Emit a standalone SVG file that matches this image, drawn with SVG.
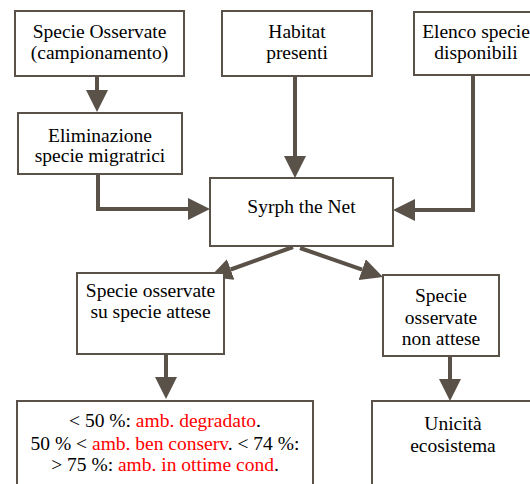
<svg xmlns="http://www.w3.org/2000/svg" width="530" height="484" viewBox="0 0 530 484">
<style>
.box{fill:#fff;stroke:#5a5148;stroke-width:2}
.t{font-family:"Liberation Serif","Times New Roman",serif;font-size:19.5px;fill:#000;text-anchor:middle}
.r{fill:#ff0000}
.c{fill:none;stroke:#5a5148;stroke-width:4}
</style>
<defs>
<marker id="ah" markerUnits="userSpaceOnUse" markerWidth="22" markerHeight="22" refX="0" refY="11" orient="auto" viewBox="0 0 22 22">
<path d="M0,0 L22,11 L0,22 z" fill="#5a5148"/>
</marker>
</defs>
<rect width="530" height="484" fill="#fff"/>
<g id="connectors">
<path class="c" d="M97,76 V90" marker-end="url(#ah)"/>
<path class="c" d="M295,76 V156" marker-end="url(#ah)"/>
<path class="c" d="M98,174 V209 H188" marker-end="url(#ah)"/>
<path class="c" d="M473,75 V210 H415" marker-end="url(#ah)"/>
<path class="c" d="M293,247 L230.7,269.5" marker-end="url(#ah)"/>
<path class="c" d="M300,248 L362.2,269.7" marker-end="url(#ah)"/>
<path class="c" d="M166,354 V377" marker-end="url(#ah)"/>
<path class="c" d="M450,356 V379" marker-end="url(#ah)"/>
</g>
<g id="n1">
<rect class="box" x="15" y="11" width="169" height="65"/>
<text class="t" x="99.5" y="38">Specie Osservate</text>
<text class="t" x="99.5" y="59">(campionamento)</text>
</g>
<g id="n2">
<rect class="box" x="222" y="11" width="150" height="65"/>
<text class="t" x="297" y="38">Habitat</text>
<text class="t" x="297" y="59">presenti</text>
</g>
<g id="n3">
<rect class="box" x="414" y="12" width="124" height="63"/>
<text class="t" x="476" y="38">Elenco specie</text>
<text class="t" x="476" y="59">disponibili</text>
</g>
<g id="n4">
<rect class="box" x="18" y="113" width="164" height="61"/>
<text class="t" x="100" y="142">Eliminazione</text>
<text class="t" x="100" y="162">specie migratrici</text>
</g>
<g id="n5">
<rect class="box" x="210" y="178" width="183" height="68"/>
<text class="t" x="301.5" y="213">Syrph the Net</text>
</g>
<g id="n6">
<rect class="box" x="77" y="273" width="147" height="81"/>
<text class="t" x="150.5" y="297">Specie osservate</text>
<text class="t" x="150.5" y="318">su specie attese</text>
</g>
<g id="n7">
<rect class="box" x="383" y="275" width="116" height="81"/>
<text class="t" x="441" y="302">Specie</text>
<text class="t" x="441" y="324">osservate</text>
<text class="t" x="441" y="345">non attese</text>
</g>
<g id="n8">
<rect class="box" x="17" y="401" width="296" height="100"/>
<text class="t" x="165" y="427">&lt; 50 %: <tspan class="r">amb. degradato</tspan>.</text>
<text class="t" x="165" y="450">50 % &lt; <tspan class="r">amb. ben conserv</tspan>. &lt; 74 %:</text>
<text class="t" x="165" y="471">&gt; 75 %: <tspan class="r">amb. in ottime cond</tspan>.</text>
</g>
<g id="n9">
<rect class="box" x="372" y="401" width="162" height="100"/>
<text class="t" x="453" y="430">Unicità</text>
<text class="t" x="453" y="452">ecosistema</text>
</g>
</svg>
